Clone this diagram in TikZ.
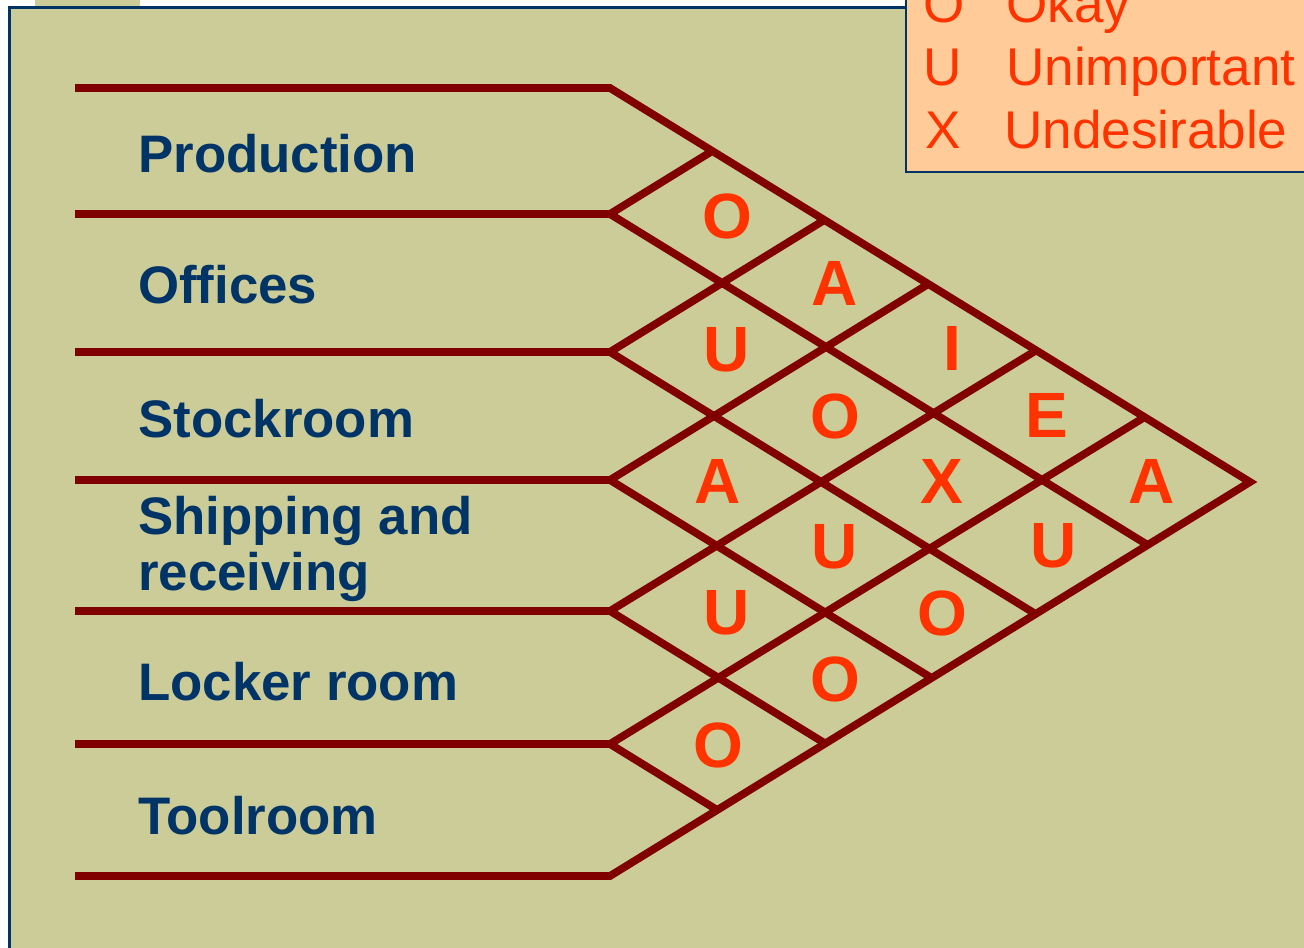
\documentclass[tikz,border=0pt]{standalone}
\usepackage{fontspec}
\setmainfont{Liberation Sans}
\definecolor{khaki}{HTML}{CCCC99}
\definecolor{navy}{HTML}{003366}
\definecolor{maroon}{HTML}{800000}
\definecolor{flame}{HTML}{FF3300}
\definecolor{peach}{HTML}{FFCC99}
\begin{document}
\begin{tikzpicture}[x=0.75pt,y=-0.75pt,
  grid/.style={draw=maroon,line width=5.8pt,line join=miter},
  dept/.style={anchor=base west,inner sep=0pt,text=navy,
    font=\fontsize{39.6}{41.5}\selectfont\bfseries,align=left},
  rating/.style={inner sep=0pt,text=flame,font=\fontsize{48}{50}\selectfont\bfseries},
  legend/.style={anchor=base west,inner sep=0pt,text=flame,font=\fontsize{39.8}{44}\selectfont}]
\useasboundingbox (0,0) rectangle (1304,947);
\clip (0,0) rectangle (1304,947);
\fill[white] (0,0) rectangle (1304,947);

% slide panel
\fill[khaki] (35,0) rectangle (140,9);
\draw[navy,line width=2.6pt,fill=khaki] (9.5,7.5) rectangle (1330,980);

% legend box
\draw[navy,line width=1.9pt,fill=peach] (906,-40) rectangle (1330,172);
\node[legend] (lO) at (923,22) {O};
\node[legend] (lOk) at (1006,22) {Okay};
\node[legend] (lU) at (923,85) {U};
\node[legend] (lUn) at (1006,85) {Unimportant};
\node[legend] (lX) at (925,148) {X};
\node[legend] (lUd) at (1004,148) {Undesirable};

% row separators: left ends, break points and lattice ends
\coordinate (H0) at (75,88);   \coordinate (L0) at (610,88);
\coordinate (H1) at (75,214);  \coordinate (L1) at (610,214);
\coordinate (H2) at (75,352);  \coordinate (L2) at (610,352);
\coordinate (H3) at (75,480);  \coordinate (L3) at (610,480);
\coordinate (H4) at (75,611);  \coordinate (L4) at (610,611);
\coordinate (H5) at (75,744);  \coordinate (L5) at (610,744);
\coordinate (H6) at (75,876);  \coordinate (L6) at (610,876);
\coordinate (tip) at (1250,482);

\coordinate (T1) at (712.3,151);  \coordinate (B1) at (1147.7,545);
\coordinate (T2) at (824.4,220);  \coordinate (B2) at (1035.6,614);
\coordinate (T3) at (928.4,284);  \coordinate (B3) at (931.6,678);
\coordinate (T4) at (1036.8,350); \coordinate (B4) at (825.2,743.5);
\coordinate (T5) at (1144.8,417); \coordinate (B5) at (717.2,810);

% outline of the chart
\draw[grid] (H0) -- (L0) -- (tip) -- (L6) -- (H6);
% inner separators with their diagonals
\foreach \k in {1,...,5}{
  \draw[grid] (H\k) -- (L\k);
  \draw[grid] (T\k) -- (L\k) -- (B\k);
}

% department names
\node[dept] (production) at (138,172) {Production};
\node[dept] (offices) at (138,303) {Offices};
\node[dept] (stockroom) at (138,437) {Stockroom};
\node[dept] (shipping) at (138,590) {Shipping and\\receiving};
\node[dept] (locker) at (138,700) {Locker room};
\node[dept] (toolroom) at (138,834) {Toolroom};

% closeness ratings
\node[rating] (r12) at (727,216) {O};
\node[rating] (r23) at (727,350) {U};
\node[rating] (r34) at (718,481) {A};
\node[rating] (r45) at (727,613) {U};
\node[rating] (r56) at (718,745) {O};
\node[rating] (r13) at (835,283) {A};
\node[rating] (r24) at (835,416) {O};
\node[rating] (r35) at (835,547) {U};
\node[rating] (r46) at (835,679) {O};
\node[rating] (r14) at (952,348) {I};
\node[rating] (r25) at (942,481) {X};
\node[rating] (r36) at (942,613) {O};
\node[rating] (r15) at (1047,415) {E};
\node[rating] (r26) at (1054,546) {U};
\node[rating] (r16) at (1152,481) {A};
\end{tikzpicture}
\end{document}
